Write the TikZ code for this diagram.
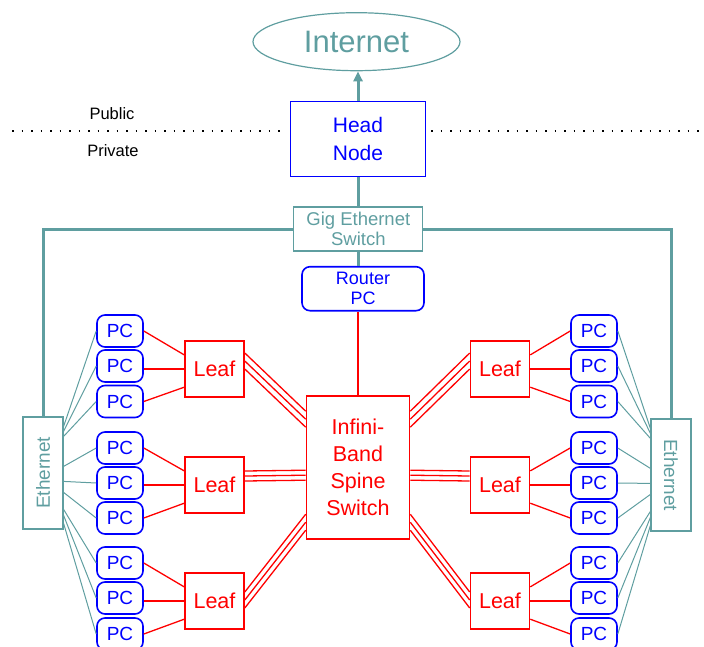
\documentclass[tikz,border=0pt]{standalone}
\usepackage{fontspec}
\setmainfont{Liberation Sans}
\usetikzlibrary{arrows.meta,calc,shapes.geometric}
\definecolor{ethteal}{RGB}{95,158,160}

\begin{document}
\begin{tikzpicture}[x=1pt, y=-1pt]
    \tikzstyle{pcbox} = [rectangle, draw=blue, line width=1.6pt, rounded corners=8pt, minimum width=46pt, minimum height=32pt, inner sep=0pt, text=blue, font=\fontsize{19}{20}\selectfont]
    \tikzstyle{leafbox} = [rectangle, draw=red, line width=1.6pt, minimum width=59pt, minimum height=56pt, inner sep=0pt, text=red, font=\fontsize{21.5}{24}\selectfont]
    \tikzstyle{ethbox} = [rectangle, draw=ethteal, line width=1.2pt, minimum width=40pt, minimum height=112pt, inner sep=0pt, text=ethteal, font=\fontsize{19}{20}\selectfont]
    \tikzstyle{trunk} = [draw=ethteal, line width=3pt]
    \tikzstyle{ethline} = [draw=ethteal, line width=1pt]
    \tikzstyle{ibline} = [draw=red, line width=1.3pt]
    \tikzstyle{divider} = [draw=black, line width=1.6pt, dash pattern=on 1.6pt off 7.9pt]

    \useasboundingbox (0,0) rectangle (704,646);
    \clip (0,0) rectangle (704,646);

    \node[ellipse, draw=ethteal, line width=1.2pt, minimum width=207pt, minimum height=58pt, inner sep=0pt, text=ethteal, font=\fontsize{31}{34}\selectfont] (inet) at (356.5,41.7) {Internet};
    \node[rectangle, draw=blue, line width=1.6pt, minimum width=135pt, minimum height=75pt, inner sep=0pt, align=center, text=blue, font=\fontsize{21}{28}\selectfont] (head) at (358,139) {Head\\Node};
    \node[rectangle, draw=ethteal, line width=1.2pt, minimum width=129pt, minimum height=44pt, inner sep=0pt, align=center, text=ethteal, font=\fontsize{18.5}{20}\selectfont] (gig) at (358.3,229) {Gig Ethernet\\Switch};
    \node[pcbox, minimum width=122pt, minimum height=44pt, align=center, font=\fontsize{18}{20}\selectfont] (router) at (363,288.7) {Router\\PC};
    \node[leafbox, minimum width=103pt, minimum height=143pt, align=center, font=\fontsize{21.5}{27}\selectfont] (spine) at (358,467.5) {Infini-\\Band\\Spine\\Switch};

    \node[inner sep=0pt, font=\fontsize{16.5}{18}\selectfont] (pub) at (112,114) {Public};
    \node[inner sep=0pt, font=\fontsize{16.5}{18}\selectfont] (priv) at (113,151) {Private};
    \draw[divider] (12,131) -- (283,131);
    \draw[divider] (431,131) -- (702,131);

    \node[ethbox] (eL) at (43,473) {\rotatebox{90}{Ethernet}};
    \node[ethbox] (eR) at (671,475) {\rotatebox{-90}{Ethernet}};

    % leaves with their three PCs each
    \foreach \k/\c in {1/369,2/485,3/601} {
        \node[leafbox] (leafL\k) at (214.5,\c) {Leaf};
        \node[leafbox] (leafR\k) at (500,\c) {Leaf};
    }
    \foreach \n/\c in {1/331,2/366,3/401.5,4/448,5/483,6/518,7/563,8/598,9/634} {
        \node[pcbox] (pcL\n) at (120,\c) {PC};
        \node[pcbox] (pcR\n) at (594,\c) {PC};
    }
    \foreach \k/\a/\b/\m in {1/1/3/2,2/4/6/5,3/7/9/8} {
        \draw[ibline] (pcL\a.east) -- (leafL\k.155);
        \draw[ibline] (pcL\m.east |- leafL\k.west) -- (leafL\k.west);
        \draw[ibline] (pcL\b.east) -- (leafL\k.211);
        \draw[ibline] (pcR\a.west) -- (leafR\k.25);
        \draw[ibline] (pcR\m.west |- leafR\k.east) -- (leafR\k.east);
        \draw[ibline] (pcR\b.west) -- (leafR\k.329);
    }

    % infiniband trunks to the spine
    \foreach \d in {0,8,16} {
        \draw[ibline] ($(leafL1.east)+(0,\d-16)$) -- ($(spine.north west)+(0,\d+16)$);
        \draw[ibline] ($(leafR1.west)+(0,\d-16)$) -- ($(spine.north east)+(0,\d+16)$);
        \draw[ibline] ($(leafL3.east)+(0,\d-9)$) -- ($(spine.north west)+(0,\d+119)$);
        \draw[ibline] ($(leafR3.west)+(0,\d-9)$) -- ($(spine.north east)+(0,\d+119)$);
    }
    \foreach \d in {0,5,10} {
        \draw[ibline] ($(leafL2.east)+(0,\d-14)$) -- ($(spine.north west)+(0,\d+75)$);
        \draw[ibline] ($(leafR2.west)+(0,\d-14)$) -- ($(spine.north east)+(0,\d+75)$);
    }

    % ethernet
    \foreach \n/\d in {1/10,2/15,3/20,4/50,5/65,6/76,7/93,8/99,9/107} {
        \draw[ethline] (pcL\n.west) -- ($(eL.north east)+(0,\d)$);
        \draw[ethline] (pcR\n.east) -- ($(eR.north west)+(0,\d)$);
    }
    \draw[trunk] (gig.west) -- (gig.west -| eL.north) -- (eL.north);
    \draw[trunk] (gig.east) -- (gig.east -| eR.north) -- (eR.north);
    \draw[trunk] (head.south) -- (head.south |- gig.north);
    \draw[trunk] (gig.south) -- (gig.south |- router.north);
    \draw[trunk, -{Triangle[length=10pt,width=9pt]}] (head.north) -- (head.north |- inet.south);
    \draw[ibline] (router.south -| spine.north) -- (spine.north);
\end{tikzpicture}
\end{document}
